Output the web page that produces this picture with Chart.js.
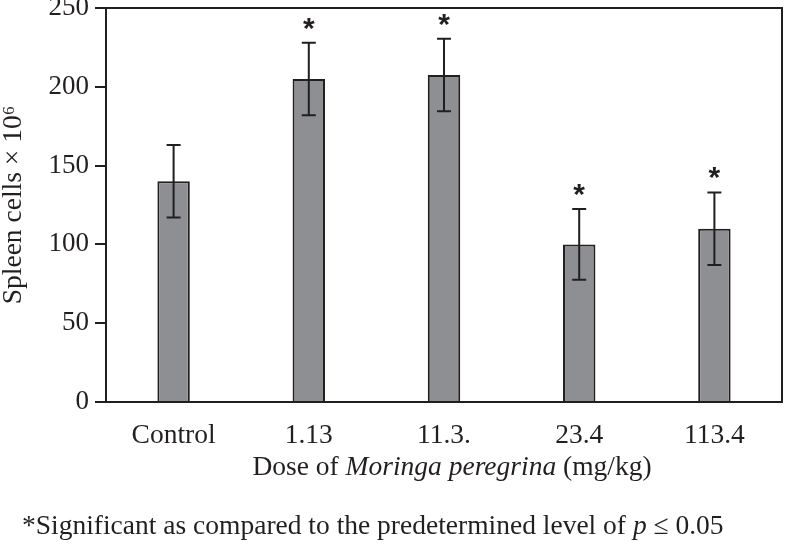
<!DOCTYPE html>
<html>
<head>
<meta charset="utf-8">
<script src="https://cdn.jsdelivr.net/npm/chart.js@4"></script>
<style>
  html, body { margin: 0; padding: 0; background: #fff; }
  #wrap { width: 785px; height: 547px; }
</style>
</head>
<body>
<div id="wrap"><canvas id="spleen"></canvas></div>
<script>
// values
const doseLabels = ['Control', '1.13', '11.3.', '23.4', '113.4'];
const spleenMean = [140, 205, 207.5, 100, 110];
const spleenErr = [23, 23, 23, 22.5, 23];
const significant = [false, true, true, true, true];
const yTicks = [0, 50, 100, 150, 200, 250];

const ink = '#231f20';
const serif = "'Liberation Serif', 'Times New Roman', serif";

// error bars, asterisks and the frame
const extras = {
  id: 'extras',
  afterDatasetsDraw(chart) {
    const ctx = chart.ctx;
    const y = chart.scales.y;
    const bars = chart.getDatasetMeta(0).data;
    const area = chart.chartArea;
    ctx.save();
    ctx.strokeStyle = ink;
    ctx.lineWidth = 2;
    bars.forEach((bar, i) => {
      const top = y.getPixelForValue(spleenMean[i] + spleenErr[i]);
      const bot = y.getPixelForValue(spleenMean[i] - spleenErr[i]);
      ctx.beginPath();
      ctx.moveTo(bar.x, top); ctx.lineTo(bar.x, bot);
      ctx.moveTo(bar.x - 7, top); ctx.lineTo(bar.x + 7, top);
      ctx.moveTo(bar.x - 7, bot); ctx.lineTo(bar.x + 7, bot);
      ctx.stroke();
      if (significant[i]) {
        ctx.fillStyle = ink;
        ctx.font = "bold 30px 'Liberation Sans', Arial, sans-serif";
        ctx.textAlign = 'center';
        ctx.textBaseline = 'alphabetic';
        ctx.fillText('*', bar.x, top - 5);
      }
    });
    // box round the plot
    ctx.strokeRect(area.left, area.top, area.right - area.left, area.bottom - area.top);
    ctx.restore();
  },
  afterDraw(chart) {
    const ctx = chart.ctx;
    const area = chart.chartArea;
    ctx.save();
    ctx.fillStyle = ink;
    ctx.textBaseline = 'middle';
    ctx.textAlign = 'left';
    // x title with italic species name
    const parts = [
      ['Dose of ', '27.5px ' + serif],
      ['Moringa peregrina', 'italic 27.5px ' + serif],
      [' (mg/kg)', '27.5px ' + serif]
    ];
    let w = 0;
    parts.forEach(p => { ctx.font = p[1]; w += ctx.measureText(p[0]).width; });
    let x = (area.left + area.right) / 2 + 8 - w / 2;
    parts.forEach(p => { ctx.font = p[1]; ctx.fillText(p[0], x, area.bottom + 66); x += ctx.measureText(p[0]).width; });
    // footnote
    const note = [
      ['*Significant as compared to the predetermined level of ', '27.5px ' + serif],
      ['p', 'italic 27.5px ' + serif],
      [' \u2264 0.05', '27.5px ' + serif]
    ];
    x = 22;
    note.forEach(p => { ctx.font = p[1]; ctx.fillText(p[0], x, area.bottom + 125); x += ctx.measureText(p[0]).width; });
    ctx.restore();
  }
};

new Chart(document.getElementById('spleen'), {
  type: 'bar',
  data: {
    labels: doseLabels,
    datasets: [{
      data: spleenMean,
      backgroundColor: '#8e8f93',
      borderColor: ink,
      borderWidth: 2,
      barPercentage: 0.24,
      categoryPercentage: 1
    }]
  },
  options: {
    responsive: true,
    maintainAspectRatio: false,
    animation: false,
    layout: { padding: { top: 8, right: 3, left: 0, bottom: 0 } },
    plugins: { legend: { display: false }, tooltip: { enabled: false } },
    scales: {
      x: {
        grid: { display: false },
        border: { display: false },
        ticks: { color: ink, font: { family: serif, size: 27.5 }, padding: 9 },
        afterFit(s) { s.height = 145; s.paddingLeft = 0; s.paddingRight = 0; }
      },
      y: {
        min: 0,
        max: 250,
        afterBuildTicks(s) { s.ticks = yTicks.map(v => ({ value: v })); },
        grid: { drawOnChartArea: false, drawTicks: true, tickLength: 11, color: ink, lineWidth: 2 },
        border: { display: true, color: ink, width: 2 },
        ticks: { color: ink, font: { family: serif, size: 27 }, padding: 6 },
        title: { display: true, text: 'Spleen cells \u00d7 10\u2076', color: ink, font: { family: serif, size: 27.5, lineHeight: 1 }, padding: 0 },
        afterFit(s) { s.width = 106; s.paddingTop = 0; s.paddingBottom = 0; }
      }
    }
  },
  plugins: [extras]
});
</script>
</body>
</html>
